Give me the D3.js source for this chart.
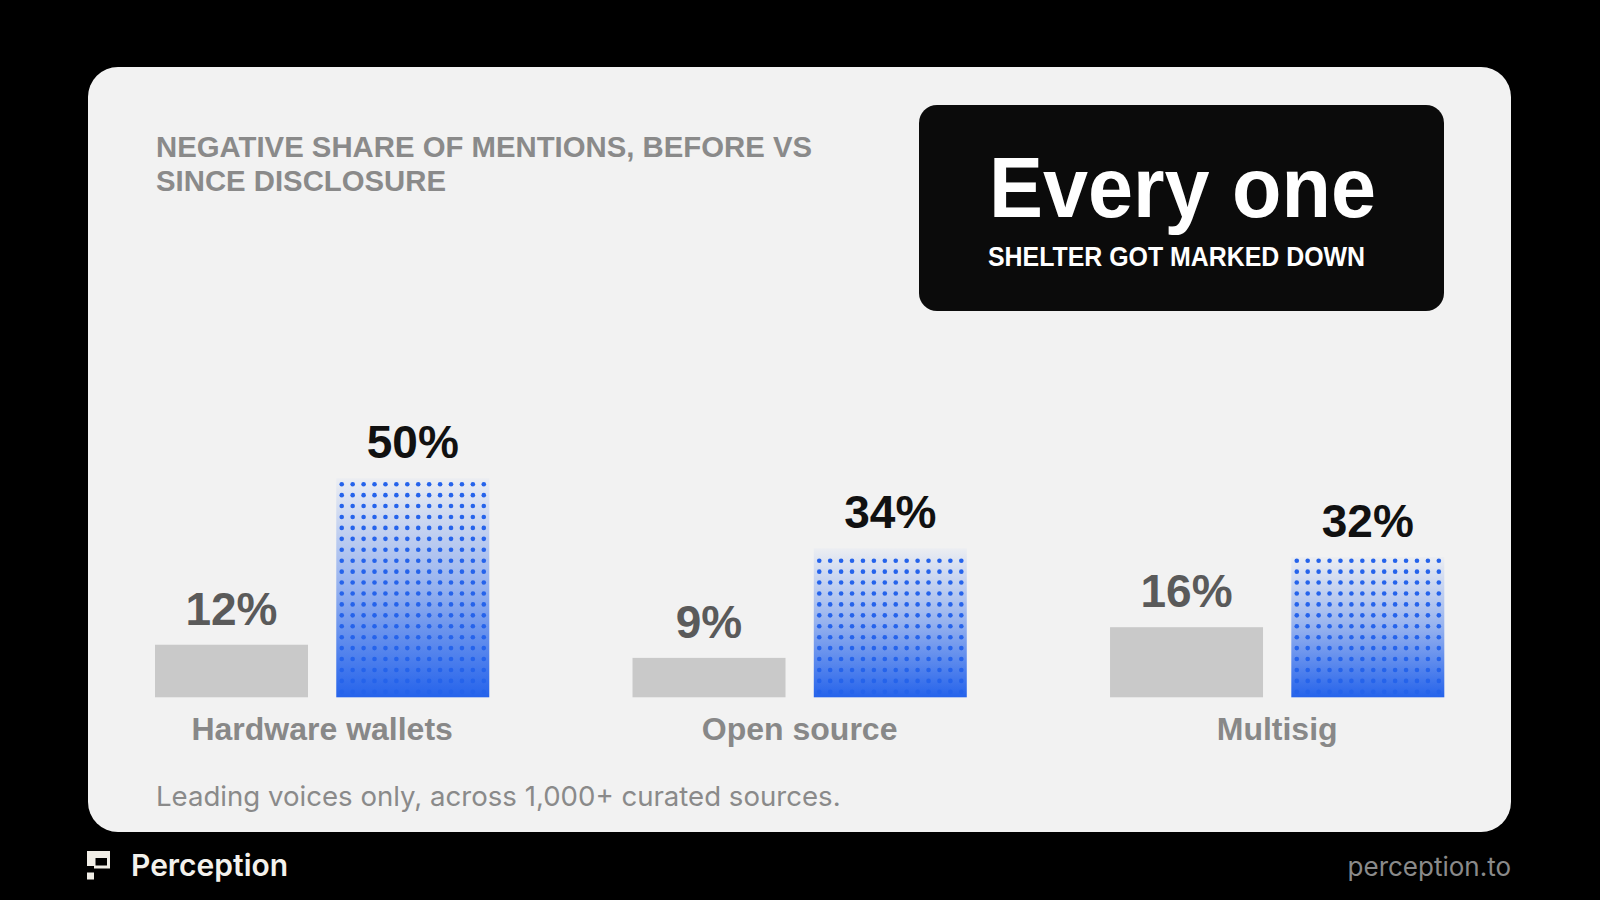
<!DOCTYPE html>
<html>
<head>
<meta charset="utf-8">
<script src="https://cdn.jsdelivr.net/npm/d3@7"></script>
<style>
  html, body { margin: 0; padding: 0; background: #000; }
  svg { display: block; }
</style>
</head>
<body>
<svg id="chart" width="1600" height="900"></svg>
<script>
// ---- data ----
const categories = ["Hardware wallets", "Open source", "Multisig"];
const seriesNames = ["Before", "Since"];
const beforeValues = [12, 9, 16];
const sinceValues = [50, 34, 32];
const titleLines = ["NEGATIVE SHARE OF MENTIONS, BEFORE VS", "SINCE DISCLOSURE"];
const calloutBig = "Every one";
const calloutSmall = "SHELTER GOT MARKED DOWN";
const footnote = "Leading voices only, across 1,000+ curated sources.";
const brandName = "Perception";
const brandUrl = "perception.to";

const svg = d3.select("#chart");
const W = 1600, H = 900;

svg.append("rect").attr("width", W).attr("height", H).attr("fill", "#000");

// card
svg.append("rect")
  .attr("x", 88).attr("y", 67).attr("width", 1423).attr("height", 765)
  .attr("rx", 30).attr("fill", "#f2f2f2");

function fit(sel, w) {
  sel.attr("textLength", w).attr("lengthAdjust", "spacingAndGlyphs");
  return sel;
}

// title
const titleNodes = titleLines.map((t, i) => svg.append("text")
  .attr("x", 156).attr("y", 157 + i * 34)
  .attr("font-family", "'Liberation Sans', Arial, sans-serif")
  .attr("font-weight", 700).attr("font-size", 29)
  .attr("fill", "#8a8a8a")
  .text(t).node());
(function () {
  const nat = titleNodes[0].getComputedTextLength();
  const ratio = 656 / nat;
  titleNodes.forEach(n => {
    const w = n.getComputedTextLength() * ratio;
    n.setAttribute("textLength", w);
    n.setAttribute("lengthAdjust", "spacingAndGlyphs");
  });
})();

// callout
svg.append("rect")
  .attr("x", 919).attr("y", 105).attr("width", 525).attr("height", 206)
  .attr("rx", 18).attr("fill", "#0b0b0b");
fit(svg.append("text")
  .attr("x", 989).attr("y", 217)
  .attr("font-family", "'Liberation Sans', Arial, sans-serif")
  .attr("font-weight", 700).attr("font-size", 86)
  .attr("fill", "#ffffff")
  .text(calloutBig), 387);
fit(svg.append("text")
  .attr("x", 988).attr("y", 266)
  .attr("font-family", "'Liberation Sans', Arial, sans-serif")
  .attr("font-weight", 700).attr("font-size", 27)
  .attr("fill", "#ffffff")
  .text(calloutSmall), 377);

// ---- scales ----
const baseY = 697.3;
const x0 = d3.scaleBand().domain(categories).range([155, 1444.3]).paddingInner(0.3).paddingOuter(0);
const x1 = d3.scaleBand().domain(seriesNames).range([0, x0.bandwidth()]).paddingInner(0.156).paddingOuter(0);
const y = d3.scaleLinear().domain([0, 50]).range([baseY, 478.3]);

const data = categories.map((c, i) => ({
  cat: c,
  bars: [
    { key: "Before", value: beforeValues[i] },
    { key: "Since", value: sinceValues[i] }
  ]
}));

const defs = svg.append("defs");
const grad = defs.append("linearGradient")
  .attr("id", "blueGrad").attr("x1", 0).attr("y1", 0).attr("x2", 0).attr("y2", 1);
grad.append("stop").attr("offset", "0%").attr("stop-color", "#2563eb").attr("stop-opacity", 0.03);
grad.append("stop").attr("offset", "50%").attr("stop-color", "#2563eb").attr("stop-opacity", 0.45);
grad.append("stop").attr("offset", "100%").attr("stop-color", "#2563eb").attr("stop-opacity", 1);

const groups = svg.append("g").selectAll("g").data(data).join("g")
  .attr("transform", d => `translate(${x0(d.cat)},0)`);

groups.each(function (d) {
  const g = d3.select(this);
  d.bars.forEach(b => {
    const bx = x1(b.key), bw = x1.bandwidth();
    const top = y(b.value);
    if (b.key === "Before") {
      g.append("rect").attr("x", bx).attr("y", top).attr("width", bw)
        .attr("height", baseY - top).attr("fill", "#c9c9c9");
    } else {
      g.append("rect").attr("x", bx).attr("y", top).attr("width", bw)
        .attr("height", baseY - top).attr("fill", "url(#blueGrad)");
      // dot grid
      const cols = 14;
      const cell = bw / cols;
      const r = 2.3;
      const dots = [];
      for (let k = 0; ; k++) {
        const cy = baseY - cell / 2 - k * cell;
        if (cy - r < top - 0.5) break;
        for (let c = 0; c < cols; c++) dots.push([bx + cell / 2 + c * cell, cy]);
      }
      g.append("g").selectAll("circle").data(dots).join("circle")
        .attr("cx", p => p[0]).attr("cy", p => p[1]).attr("r", r)
        .attr("fill", "#2563eb");
    }
    g.append("text")
      .attr("x", bx + bw / 2).attr("y", top - 20)
      .attr("text-anchor", "middle")
      .attr("font-family", "'Liberation Sans', Arial, sans-serif")
      .attr("font-weight", 700).attr("font-size", 46)
      .attr("fill", b.key === "Before" ? "#5a5a5a" : "#111111")
      .text(b.value + "%");
  });
  g.append("text")
    .attr("x", x0.bandwidth() / 2).attr("y", 740)
    .attr("text-anchor", "middle")
    .attr("font-family", "'Liberation Sans', Arial, sans-serif")
    .attr("font-weight", 700).attr("font-size", 32)
    .attr("fill", "#888888")
    .text(d.cat);
});

// footnote
svg.append("text")
  .attr("x", 156).attr("y", 806)
  .attr("font-family", "Inter, 'Noto Sans', sans-serif")
  .attr("font-weight", 400).attr("font-size", 27.6)
  .attr("fill", "#8a8a8a")
  .text(footnote);

// footer logo
const logo = svg.append("g").attr("fill", "#f1eee7");
logo.append("path")
  .attr("fill-rule", "evenodd")
  .attr("d", "M87,851 H110 V868.5 H94 V866 H87 Z M95.5,858 V865.5 H107 V858 Z");
logo.append("rect").attr("x", 87).attr("y", 872.5).attr("width", 7).attr("height", 7);

svg.append("text")
  .attr("x", 131).attr("y", 876)
  .attr("font-family", "Inter, 'Noto Sans', sans-serif")
  .attr("font-weight", 600).attr("font-size", 30)
  .attr("fill", "#f3f1ec")
  .text(brandName);

svg.append("text")
  .attr("x", 1511).attr("y", 876)
  .attr("text-anchor", "end")
  .attr("font-family", "Inter, 'Noto Sans', sans-serif")
  .attr("font-weight", 400).attr("font-size", 26)
  .attr("fill", "#8a8a8a")
  .text(brandUrl);
</script>
</body>
</html>
